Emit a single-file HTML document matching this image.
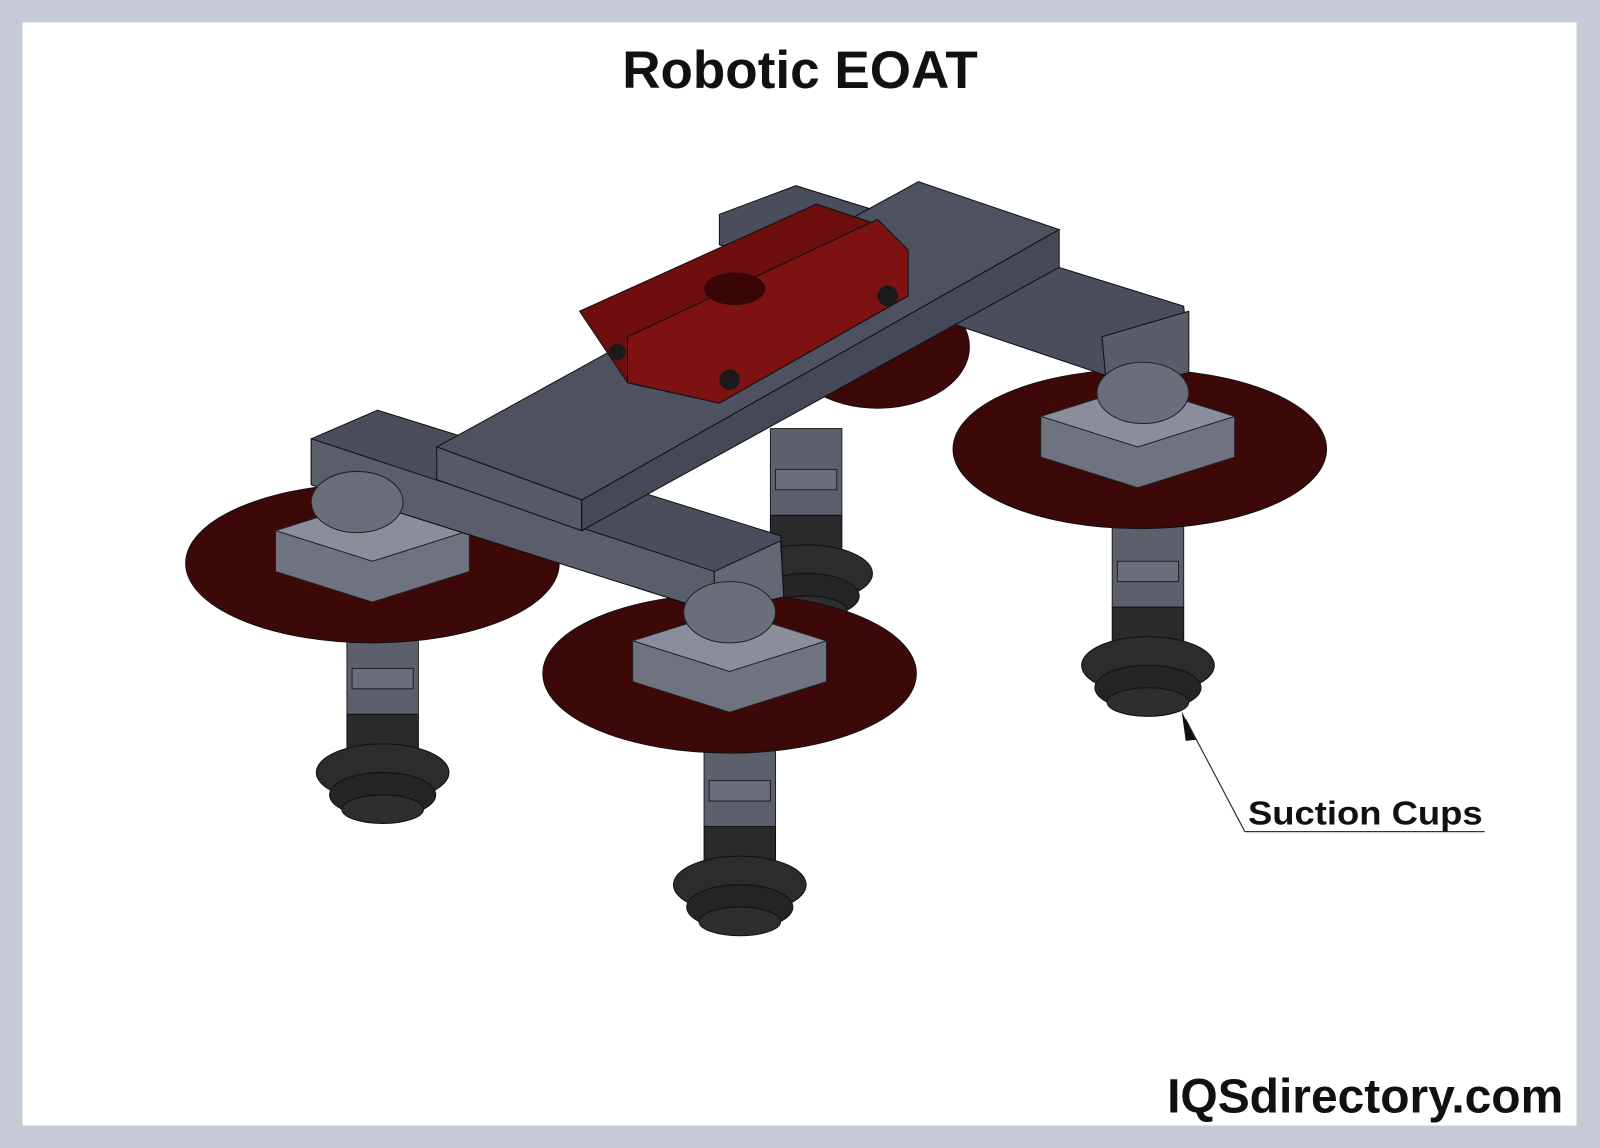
<!DOCTYPE html>
<html><head><style>
html,body{margin:0;padding:0;background:#fff}
svg{display:block}
</style></head><body>
<svg width="1600" height="1148" viewBox="0 0 1568 1125" preserveAspectRatio="none" xmlns="http://www.w3.org/2000/svg">
<rect x="0" y="0" width="1568" height="1125" fill="#c5cad6"/>
<rect x="22" y="22" width="1523" height="1081" fill="#fff"/>
<text x="784" y="86" text-anchor="middle" font-family="Liberation Sans, sans-serif" font-weight="bold" font-size="52" fill="#111">Robotic EOAT</text>
<text x="1532" y="1090" text-anchor="end" font-family="Liberation Sans, sans-serif" font-weight="bold" font-size="47" fill="#111">IQSdirectory.com</text>

<defs>
<g id="cup">
 <rect x="-35" y="0" width="70" height="85" fill="#5c606c" stroke="#222" stroke-width="1"/>
 <rect x="-30" y="40" width="60" height="20" fill="#6a6e7a" stroke="#222"/>
 <rect x="-35" y="85" width="70" height="40" fill="#2a2a2c" stroke="#111"/>
 <ellipse cx="0" cy="142" rx="65" ry="28" fill="#2c2c2e" stroke="#111"/>
 <ellipse cx="0" cy="164" rx="52" ry="22" fill="#252527" stroke="#111"/>
 <ellipse cx="0" cy="178" rx="40" ry="14" fill="#2e2e30" stroke="#111"/>
</g>
<g id="blk">
 <polygon points="-95,-20 0,-50 95,-20 95,20 0,50 -95,20" fill="#6f7380" stroke="#222"/>
 <polygon points="-95,-20 0,-50 95,-20 0,10" fill="#8a8e9a" stroke="#222"/>
</g>
</defs>

<use href="#cup" x="790" y="420"/>
<ellipse cx="860" cy="340" rx="90" ry="60" fill="#3d0808" stroke="#111"/>

<use href="#cup" x="1125" y="510"/>
<ellipse cx="1117" cy="440" rx="183" ry="78" fill="#3d0808" stroke="#111"/>
<use href="#blk" x="1115" y="428"/>

<use href="#cup" x="375" y="615"/>
<ellipse cx="365" cy="552" rx="183" ry="78" fill="#3d0808" stroke="#111"/>
<use href="#blk" x="365" y="540"/>

<use href="#cup" x="725" y="725"/>
<ellipse cx="715" cy="660" rx="183" ry="78" fill="#3d0808" stroke="#111"/>
<use href="#blk" x="715" y="648"/>

<polygon points="705,210 780,182 1160,300 1165,350 1090,370 705,240" fill="#4a4e5c" stroke="#111"/>
<polygon points="1080,330 1165,305 1165,365 1085,385" fill="#595d6a" stroke="#111"/>
<polygon points="305,430 370,402 765,525 768,585 700,600 305,475" fill="#4a4e5c" stroke="#111"/>
<polygon points="305,430 700,560 700,600 305,475" fill="#5a5e6b" stroke="#111"/>
<polygon points="700,560 765,530 768,585 700,600" fill="#646875" stroke="#111"/>
<ellipse cx="1120" cy="385" rx="45" ry="30" fill="#6a6e7a" stroke="#222"/>
<ellipse cx="350" cy="492" rx="45" ry="30" fill="#6a6e7a" stroke="#222"/>
<ellipse cx="715" cy="600" rx="45" ry="30" fill="#6a6e7a" stroke="#222"/>

<polygon points="428,438 900,178 1038,225 570,490" fill="#4e5260" stroke="#111"/>
<polygon points="428,438 570,490 570,520 428,470" fill="#555968" stroke="#111"/>
<polygon points="570,490 1038,225 1038,262 570,520" fill="#454957" stroke="#111"/>

<polygon points="568,305 800,200 860,220 880,245 890,290 705,395 615,375" fill="#6e0e0e" stroke="#111"/>
<polygon points="615,330 860,215 890,245 890,290 705,395 615,375" fill="#7e1212" stroke="#111"/>
<ellipse cx="720" cy="283" rx="30" ry="16" fill="#3a0505"/>
<circle cx="715" cy="372" r="10" fill="#1a1a1a"/>
<circle cx="870" cy="290" r="10" fill="#1a1a1a"/>
<circle cx="605" cy="345" r="8" fill="#1a1a1a"/>

<line x1="1220" y1="815" x2="1455" y2="815" stroke="#333" stroke-width="1.2"/>
<line x1="1220" y1="815" x2="1162" y2="705" stroke="#333" stroke-width="1.2"/>
<polygon points="1158,697 1172,725 1162,726" fill="#111"/>
<text x="1223" y="808" font-family="Liberation Sans, sans-serif" font-weight="bold" font-size="33" textLength="230" lengthAdjust="spacingAndGlyphs" fill="#111">Suction Cups</text>
</svg>
</body></html>
